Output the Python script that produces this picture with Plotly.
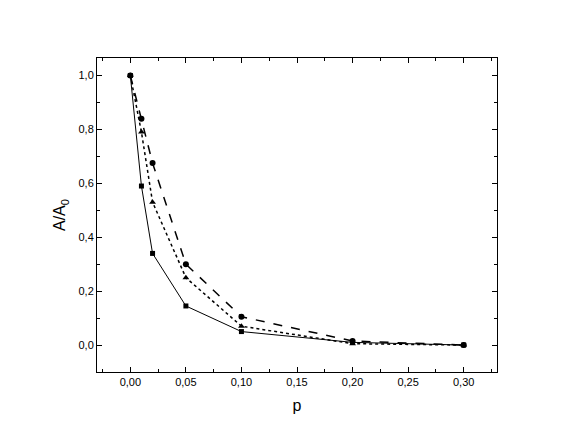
import plotly.graph_objects as go

p = [0.0, 0.01, 0.02, 0.05, 0.10, 0.20, 0.30]
sq = [1.0, 0.59, 0.34, 0.145, 0.05, 0.01, 0.0]
tri = [1.0, 0.79, 0.53, 0.25, 0.07, 0.005, 0.0]
circ = [1.0, 0.84, 0.675, 0.30, 0.105, 0.015, 0.0]

fig = go.Figure()
fig.add_trace(go.Scatter(x=p, y=sq, mode="lines+markers", line=dict(color="black", width=1, dash="solid"),
                         marker=dict(symbol="square", size=5, color="black")))
fig.add_trace(go.Scatter(x=p, y=tri, mode="lines+markers", line=dict(color="black", width=1.5, dash="dot"),
                         marker=dict(symbol="triangle-up", size=6, color="black")))
fig.add_trace(go.Scatter(x=p, y=circ, mode="lines+markers", line=dict(color="black", width=1.5, dash="dash"),
                         marker=dict(symbol="circle", size=6, color="black")))

axcommon = dict(showgrid=False, zeroline=False, showline=True, linecolor="black", linewidth=1, mirror="ticks",
                ticks="inside", ticklen=5, tickcolor="black", tickfont=dict(family="Arial", size=11, color="black"),
                minor=dict(ticks="inside", ticklen=3, tickcolor="black"))
fig.update_xaxes(range=[-0.03, 0.33], tickvals=[0, 0.05, 0.1, 0.15, 0.2, 0.25, 0.3], tickformat=".2f",
                 minor_dtick=0.025, minor_tick0=0,
                 title=dict(text="p", font=dict(family="Arial", size=16, color="black"), standoff=12), **axcommon)
fig.update_yaxes(range=[-0.1, 1.065], tickvals=[0, 0.2, 0.4, 0.6, 0.8, 1.0], tickformat=".1f",
                 minor_dtick=0.1, minor_tick0=0,
                 title=dict(text="A/A<sub>0</sub>", font=dict(family="Arial", size=16, color="black"), standoff=8), **axcommon)
fig.update_layout(width=575, height=444, showlegend=False, separators=",.",
                  plot_bgcolor="white", paper_bgcolor="white",
                  margin=dict(l=89, r=86, t=50, b=80))
fig.write_html("out.html")
